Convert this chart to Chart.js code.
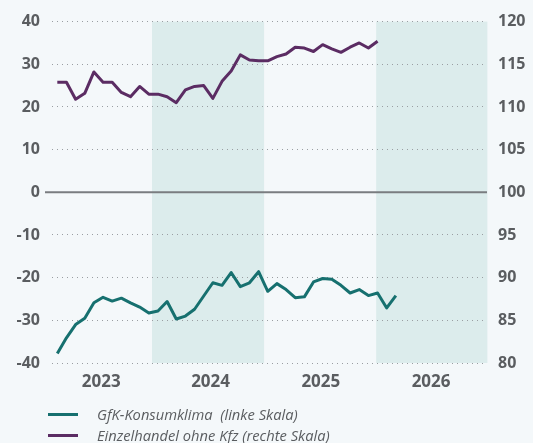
<!DOCTYPE html>
<html>
<head>
<meta charset="utf-8">
<script src="https://cdn.jsdelivr.net/npm/chart.js@4"></script>
<style>
  html, body { margin: 0; padding: 0; background: #f4f8fa; overflow: hidden; }
  #wrap { position: relative; width: 533px; height: 443px; }
  canvas { display: block; }
  .legend { position: absolute; left: 48px; height: 16px; line-height: 16px; font-family: "Open Sans", sans-serif; font-style: italic; font-size: 14.7px; color: #5a5d60; }
  .legend span.line { display: inline-block; width: 30px; height: 3px; vertical-align: middle; margin-right: 19px; }
  .legend span.txt { vertical-align: middle; white-space: pre; }
</style>
</head>
<body>
<div id="wrap">
  <canvas id="grafico" width="533" height="443"></canvas>
  <div class="legend" style="top:404px"><span class="line" style="background:#16706f"></span><span class="txt">GfK-Konsumklima  (linke Skala)</span></div>
  <div class="legend" style="top:425px"><span class="line" style="background:#5b2c63"></span><span class="txt">Einzelhandel ohne Kfz (rechte Skala)</span></div>
</div>
<script>
// Monate ab Januar 2023 (Index 0 = 2023-01)
const konsumklima = [
  -37.8, -34.1, -31.0, -29.5, -25.9, -24.6, -25.5, -24.8, -25.9, -26.9, -28.3, -27.8,
  -25.6, -29.7, -29.0, -27.4, -24.3, -21.2, -21.8, -18.8, -22.1, -21.2, -18.6, -23.2,
  -21.4, -22.8, -24.7, -24.5, -21.0, -20.2, -20.4, -21.8, -23.6, -22.8, -24.2, -23.6,
  -27.1, -24.2
];

const einzelhandel = [
  112.9, 112.9, 110.9, 111.6, 114.1, 112.9, 112.9, 111.7, 111.2, 112.4, 111.5, 111.5,
  111.2, 110.5, 112.0, 112.4, 112.5, 111.0, 113.0, 114.2, 116.1, 115.5, 115.4, 115.4,
  115.9, 116.2, 117.0, 116.9, 116.5, 117.3, 116.8, 116.4, 117.0, 117.5, 116.9, 117.7
];

const jahre = ['2023', '2024', '2025', '2026'];
const jahresMitte = [4.8, 16.75, 28.8, 40.85];
const schattierung = [[10.35, 22.6], [34.85, 47]];

const linksTicks = [-40, -30, -20, -10, 0, 10, 20, 30, 40];
const rechtsTicks = [80, 85, 90, 95, 100, 105, 110, 115, 120];

const tickFont = { family: 'Open Sans', size: 16, weight: 'bold' };
const tickColor = '#5a5d60';

const hintergrund = {
  id: 'hintergrund',
  beforeDraw(chart) {
    const { ctx, chartArea, scales: { x } } = chart;
    ctx.save();
    ctx.fillStyle = '#dcecec';
    schattierung.forEach(([a, b]) => {
      const x0 = x.getPixelForValue(a);
      const x1 = x.getPixelForValue(b);
      ctx.fillRect(x0, chartArea.top, x1 - x0, chartArea.bottom - chartArea.top);
    });
    ctx.restore();
  },
  beforeDatasetsDraw(chart) {
    const { ctx, chartArea, scales: { y } } = chart;
    const y0 = y.getPixelForValue(0);
    ctx.save();
    ctx.strokeStyle = '#7a7d80';
    ctx.lineWidth = 2;
    ctx.beginPath();
    ctx.moveTo(45, y0);
    ctx.lineTo(chartArea.right, y0);
    ctx.stroke();
    ctx.restore();
  }
};

new Chart(document.getElementById('grafico'), {
  type: 'line',
  data: {
    datasets: [{
      label: 'GfK-Konsumklima (linke Skala)',
      data: konsumklima.map((v, i) => ({ x: i, y: v })),
      borderColor: '#16706f',
      yAxisID: 'y'
    }, {
      label: 'Einzelhandel ohne Kfz (rechte Skala)',
      data: einzelhandel.map((v, i) => ({ x: i, y: v })),
      borderColor: '#5b2c63',
      yAxisID: 'y1'
    }]
  },
  options: {
    responsive: false,
    animation: false,
    devicePixelRatio: 1,
    layout: { padding: { top: 20, bottom: 50, left: 0, right: 0 } },
    elements: {
      line: { borderWidth: 3, tension: 0, borderJoinStyle: 'round', borderCapStyle: 'butt' },
      point: { radius: 0 }
    },
    plugins: { legend: { display: false }, tooltip: { enabled: false } },
    scales: {
      x: {
        type: 'linear',
        min: -0.58,
        max: 46.96,
        grid: { display: false, drawTicks: false },
        border: { display: false },
        afterBuildTicks: s => { s.ticks = jahresMitte.map(v => ({ value: v })); },
        afterFit: s => { s.height = 30; },
        ticks: {
          autoSkip: false,
          maxRotation: 0,
          padding: 9,
          color: tickColor,
          font: { family: 'Open Sans', size: 17, weight: 'bold' },
          callback: (v, i) => jahre[i]
        }
      },
      y: {
        position: 'left',
        min: -40,
        max: 40,
        afterBuildTicks: s => { s.ticks = linksTicks.map(v => ({ value: v })); },
        afterFit: s => { s.width = 52; },
        grid: { color: '#9a9ea2', lineWidth: 1, drawTicks: false },
        border: { display: false, dash: [1, 4] },
        ticks: { padding: 12, color: tickColor, font: tickFont }
      },
      y1: {
        position: 'right',
        min: 80,
        max: 120,
        afterBuildTicks: s => { s.ticks = rechtsTicks.map(v => ({ value: v })); },
        afterFit: s => { s.width = 46; },
        grid: { display: false, drawTicks: false },
        border: { display: false },
        ticks: { padding: 11, color: tickColor, font: tickFont }
      }
    }
  },
  plugins: [hintergrund]
});
</script>
</body>
</html>
